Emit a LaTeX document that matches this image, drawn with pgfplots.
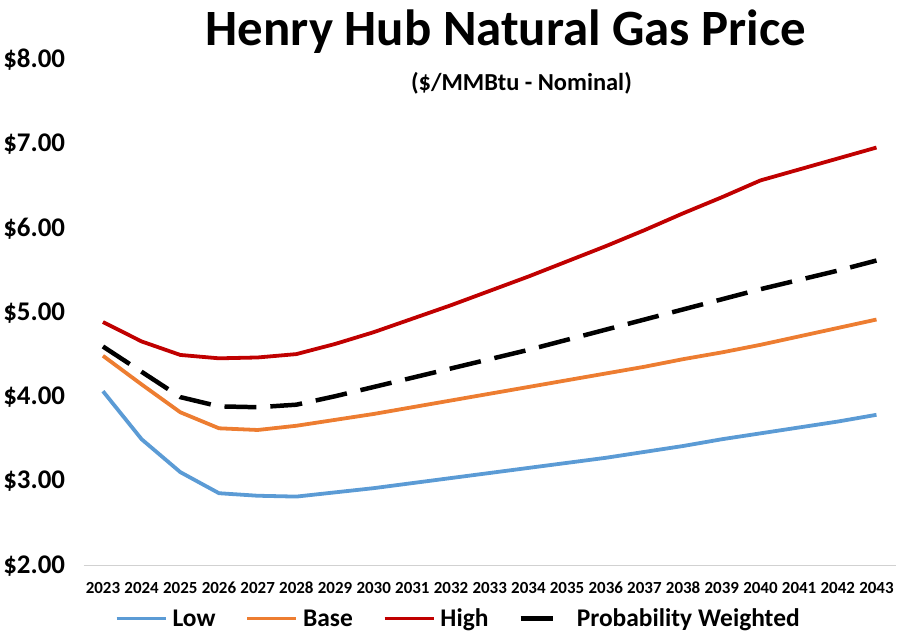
\documentclass[border=0pt]{standalone}
\usepackage{pgfplots}
\pgfplotsset{compat=1.18}
\usepackage{fontspec}
\setmainfont{Carlito}
\definecolor{cLow}{HTML}{5B9BD5}
\definecolor{cBase}{HTML}{ED7D31}
\definecolor{cHigh}{HTML}{C00000}
\pgfplotsset{
  longlegend/.style={legend image code/.code={\draw[##1] (0pt,0pt) -- (49pt,0pt);}},
  dashlegend/.style={legend image code/.code={\draw[##1] (0pt,0pt) -- (33pt,0pt); \path (49pt,0pt);}},
}
\begin{document}
\begin{tikzpicture}
\begin{axis}[
  scale only axis,
  width=814pt, height=507pt,
  xmin=2022.5, xmax=2043.5,
  ymin=2, ymax=8,
  ytick={2,3,4,5,6,7,8},
  xtick={2023,2024,2025,2026,2027,2028,2029,2030,2031,2032,2033,2034,2035,2036,2037,2038,2039,2040,2041,2042,2043},
  xticklabels={2023,2024,2025,2026,2027,2028,2029,2030,2031,2032,2033,2034,2035,2036,2037,2038,2039,2040,2041,2042,2043},
  yticklabel={\$\pgfmathprintnumber[fixed,fixed zerofill,precision=2,assume math mode=true]{\tick}},
  yticklabel style={font=\bfseries\fontsize{27}{27}\selectfont, xshift=-15pt},
  xticklabel style={font=\bfseries\fontsize{17}{17}\selectfont, yshift=-13pt},
  axis x line*=bottom, axis y line*=left,
  x axis line style={draw=black!18, line width=1pt, -},
  y axis line style={draw=none},
  tick style={draw=none},
  clip=false,
  legend columns=4,
  legend style={draw=none, at={(0.46,-0.1045)}, anchor=center,
    font=\bfseries\fontsize{25.5}{25.5}\selectfont,
    nodes={inner xsep=0pt},
    /tikz/every odd column/.append style={column sep=5pt},
    /tikz/every even column/.append style={column sep=30pt}},
  longlegend,
]
\addplot[cLow, line width=3.8pt] coordinates {
(2023,4.07)(2024,3.50)(2025,3.11)(2026,2.86)(2027,2.83)(2028,2.82)(2029,2.87)(2030,2.92)(2031,2.98)(2032,3.04)(2033,3.10)(2034,3.16)(2035,3.22)(2036,3.28)(2037,3.35)(2038,3.42)(2039,3.50)(2040,3.57)(2041,3.64)(2042,3.71)(2043,3.79)};
\addlegendentry{Low}
\addplot[cBase, line width=3.8pt] coordinates {
(2023,4.49)(2024,4.15)(2025,3.82)(2026,3.63)(2027,3.61)(2028,3.66)(2029,3.73)(2030,3.80)(2031,3.88)(2032,3.96)(2033,4.04)(2034,4.12)(2035,4.20)(2036,4.28)(2037,4.36)(2038,4.45)(2039,4.53)(2040,4.62)(2041,4.72)(2042,4.82)(2043,4.92)};
\addlegendentry{Base}
\addplot[cHigh, line width=3.8pt] coordinates {
(2023,4.89)(2024,4.66)(2025,4.50)(2026,4.46)(2027,4.47)(2028,4.51)(2029,4.63)(2030,4.77)(2031,4.93)(2032,5.09)(2033,5.26)(2034,5.43)(2035,5.61)(2036,5.79)(2037,5.98)(2038,6.18)(2039,6.37)(2040,6.57)(2041,6.70)(2042,6.83)(2043,6.96)};
\addlegendentry{High}
\addplot[black, line width=4.5pt, dash pattern=on 32pt off 14pt, dashlegend] coordinates {
(2023,4.60)(2024,4.30)(2025,4.00)(2026,3.89)(2027,3.88)(2028,3.91)(2029,4.01)(2030,4.12)(2031,4.23)(2032,4.34)(2033,4.45)(2034,4.56)(2035,4.68)(2036,4.80)(2037,4.92)(2038,5.04)(2039,5.16)(2040,5.28)(2041,5.39)(2042,5.50)(2043,5.62)};
\addlegendentry{Probability Weighted}
\coordinate (sw) at (rel axis cs:0,0);
\coordinate (ne) at (rel axis cs:1,1);
\node[font=\bfseries\fontsize{51}{51}\selectfont, anchor=base] at ([yshift=14pt]rel axis cs:0.52,1) {Henry Hub Natural Gas Price};
\node[font=\bfseries\fontsize{24.5}{24.5}\selectfont, anchor=base] at ([yshift=-31pt]rel axis cs:0.539,1) {(\$/MMBtu - Nominal)};
\end{axis}
\path ([xshift=-83pt,yshift=-66pt]sw) rectangle ([yshift=60pt]ne);
\end{tikzpicture}
\end{document}
